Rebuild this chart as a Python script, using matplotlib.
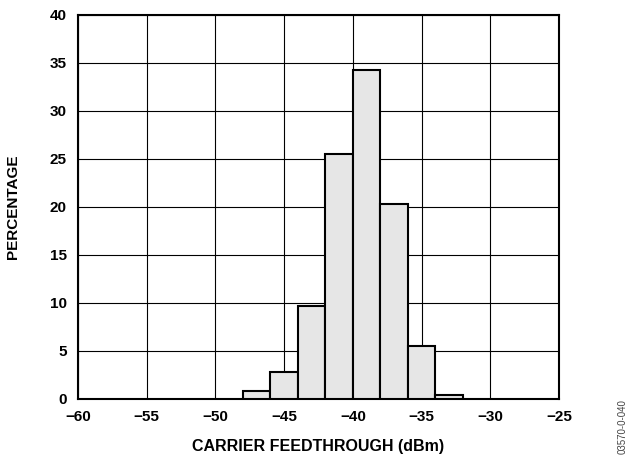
import matplotlib
matplotlib.use("Agg")
import matplotlib.pyplot as plt

plt.rcParams['font.family'] = ['Liberation Sans', 'DejaVu Sans']

# histogram data (bin edges in dBm, percentage per bin)
bin_left = [-48, -46, -44, -42, -40, -38, -36, -34]
bin_width = 2
percent = [0.8, 2.8, 9.7, 25.5, 34.3, 20.3, 5.5, 0.4]

x_ticks = [-60, -55, -50, -45, -40, -35, -30, -25]
x_labels = ['\u221260', '\u221255', '\u221250', '\u221245', '\u221240', '\u221235', '\u221230', '\u221225']
y_ticks = [0, 5, 10, 15, 20, 25, 30, 35, 40]

fig = plt.figure(figsize=(6.28, 4.58), dpi=100)
# axes box: x 78..559 px, y 15..399 px
ax = fig.add_axes([78 / 628, 1 - 399 / 458, 481 / 628, 384 / 458])

ax.set_axisbelow(True)
ax.grid(True, color='black', linewidth=0.8)
ax.bar(bin_left, percent, width=bin_width, align='edge',
       color='#e6e6e6', edgecolor='black', linewidth=1.5, zorder=3)

ax.set_xlim(-60, -25)
ax.set_ylim(0, 40)
ax.set_xticks(x_ticks)
ax.set_xticklabels(x_labels)
ax.set_yticks(y_ticks)
ax.tick_params(axis='x', length=0, labelsize=11, pad=8)
ax.tick_params(axis='y', length=0, labelsize=11, pad=8)
for lab in ax.get_xticklabels() + ax.get_yticklabels():
    lab.set_fontweight('bold')
for sp in ax.spines.values():
    sp.set_linewidth(1.5)

ax.set_xlabel('CARRIER FEEDTHROUGH (dBm)', fontsize=11.5, fontweight='bold', va='center')
ax.xaxis.set_label_coords(0.5, -0.125)
ax.set_ylabel('PERCENTAGE', fontsize=11, fontweight='bold', va='center')
ax.yaxis.set_label_coords(-0.135, 0.5)

fig.text(623 / 628, 1 - 427 / 458, '03570-0-040', rotation=90, fontsize=7, color='#444444',
         ha='center', va='center')

fig.savefig('out.png', dpi=100)
